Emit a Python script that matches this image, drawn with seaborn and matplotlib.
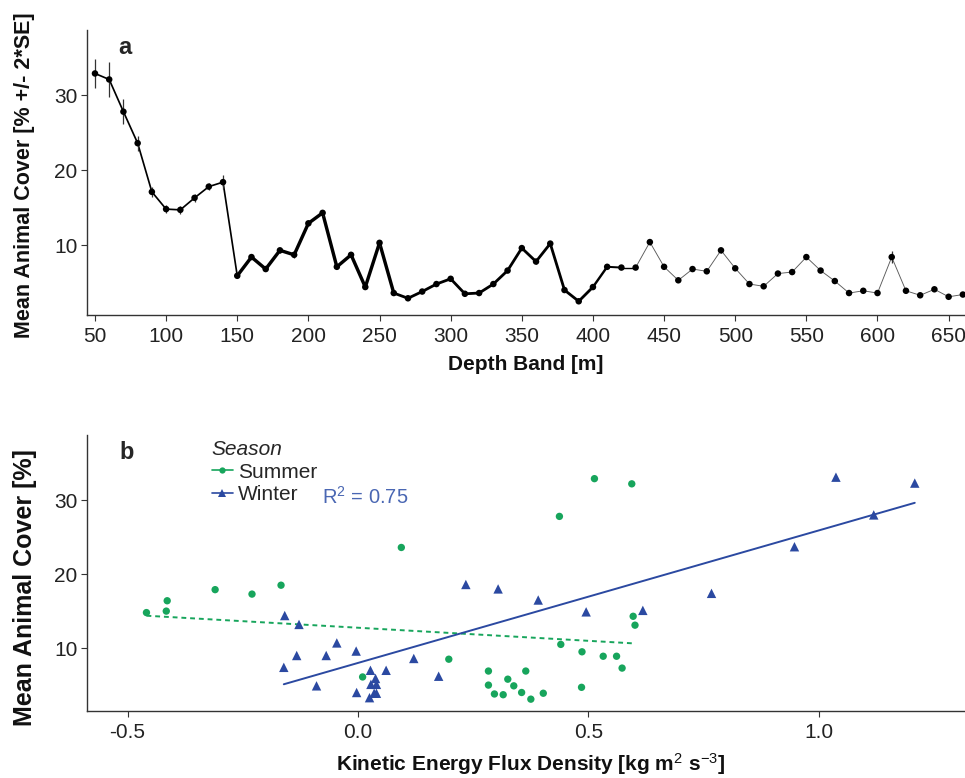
import numpy as np
import pandas as pd
import matplotlib
matplotlib.use("Agg")
import matplotlib.pyplot as plt
import seaborn as sns
from matplotlib.collections import LineCollection
from matplotlib.lines import Line2D

# ---------------- data: panel a ----------------
depth = list(range(50, 670, 10))
cover = [32.9, 32.1, 27.8, 23.6, 17.1, 14.8, 14.7, 16.3, 17.8, 18.4,
         5.9, 8.4, 6.8, 9.3, 8.7, 12.9, 14.3, 7.1, 8.7, 4.4,
         10.3, 3.6, 2.9, 3.8, 4.8, 5.5, 3.5, 3.6, 4.8, 6.6,
         9.6, 7.8, 10.2, 4.0, 2.5, 4.4, 7.1, 7.0, 7.0, 10.4,
         7.1, 5.3, 6.8, 6.5, 9.3, 6.9, 4.8, 4.5, 6.2, 6.4,
         8.4, 6.6, 5.2, 3.6, 3.9, 3.6, 8.4, 3.9, 3.3, 4.1, 3.1, 3.4]
two_se = [1.9, 2.3, 1.7, 1.0, 0.7, 0.5, 0.5, 0.5, 0.5, 0.9,
          0.3, 0.3, 0.3, 0.3, 0.4, 0.4, 0.4, 0.3, 0.3, 0.3,
          0.4, 0.3, 0.2, 0.2, 0.2, 0.2, 0.2, 0.2, 0.2, 0.2,
          0.3, 0.3, 0.3, 0.2, 0.2, 0.2, 0.2, 0.2, 0.2, 0.4,
          0.2, 0.2, 0.2, 0.2, 0.3, 0.2, 0.2, 0.2, 0.2, 0.2,
          0.2, 0.2, 0.2, 0.2, 0.2, 0.2, 0.8, 0.2, 0.2, 0.2, 0.2, 0.2]
n_images = [17] * 10 + [34] * 11 + [28] * 14 + [24, 20, 14] + [9] * 24

# ---------------- data: panel b ----------------
summer_kef = [-0.459, -0.414, -0.416, -0.310, -0.230, -0.167, 0.094, 0.010,
              0.513, 0.594, 0.437, 0.197, 0.283, 0.283, 0.296, 0.315, 0.325,
              0.338, 0.355, 0.364, 0.375, 0.402, 0.440, 0.486, 0.485, 0.532,
              0.561, 0.573, 0.597, 0.601]
summer_cover = [14.8, 16.4, 15.0, 17.9, 17.3, 18.5, 23.6, 6.1,
                32.9, 32.2, 27.8, 8.5, 6.9, 5.0, 3.8, 3.7, 5.8,
                4.9, 4.0, 6.9, 3.1, 3.9, 10.5, 9.5, 4.7, 8.9,
                8.9, 7.3, 14.3, 13.1]
winter_kef = [-0.159, -0.128, -0.046, -0.133, -0.069, -0.004, -0.161, -0.090,
              0.027, 0.061, 0.121, 0.038, 0.028, 0.040, -0.003, 0.035, 0.040,
              0.025, 0.175, 0.234, 0.304, 0.391, 0.495, 0.618, 1.037, 1.208,
              1.119, 0.947, 0.767]
winter_cover = [14.4, 13.2, 10.7, 9.0, 9.0, 9.6, 7.4, 4.9,
                7.0, 7.0, 8.6, 5.9, 5.1, 5.1, 4.0, 3.9, 3.9,
                3.3, 6.2, 18.6, 18.0, 16.5, 14.9, 15.1, 33.1, 32.3,
                28.0, 23.7, 17.4]
seasons = ["Summer", "Winter"]
r2_winter = "0.75"

depth_ticks = list(range(50, 700, 50))
kef_ticks = [-0.5, 0.0, 0.5, 1.0]
cover_ticks = [10, 20, 30]

# ---------------- style ----------------
sns.set_theme(style="ticks")
plt.rcParams["font.family"] = ["Liberation Sans", "DejaVu Sans"]
plt.rcParams["mathtext.fontset"] = "custom"
plt.rcParams["mathtext.rm"] = "Liberation Sans"
plt.rcParams["mathtext.it"] = "Liberation Sans:italic"
plt.rcParams["mathtext.bf"] = "Liberation Sans:bold"

GREEN = "#17a55c"
BLUE = "#2b49a1"
R2COL = "#4a67b3"

W, H = 965, 778
fig = plt.figure(figsize=(W / 100, H / 100), dpi=100)
ax1 = fig.add_axes([87 / W, (H - 315) / H, (W - 87) / W, 285 / H])
ax2 = fig.add_axes([87 / W, (H - 711) / H, (W - 87) / W, 276 / H])

dfa = pd.DataFrame({"depth": depth, "cover": cover, "se2": two_se, "n": n_images})

# variable-width connecting line
pts = np.column_stack([dfa["depth"], dfa["cover"]])
segs = np.stack([pts[:-1], pts[1:]], axis=1)
widths_px = dfa["n"].values[:-1] / 10.0
lws = widths_px * 0.72
cols = ["black" if w > 1.2 else "#5a5a5a" for w in widths_px]
lc = LineCollection(segs, linewidths=lws, colors=cols, capstyle="round",
                    joinstyle="round", zorder=2)
ax1.add_collection(lc)
ax1.errorbar(dfa["depth"], dfa["cover"], yerr=dfa["se2"], fmt="none",
             ecolor="#333333", elinewidth=0.9, capsize=0, zorder=2.5)
sns.scatterplot(data=dfa, x="depth", y="cover", color="black", s=22,
                edgecolor="none", ax=ax1, zorder=3, legend=False)

ax1.set_xlim(44.4, 661.5)
ax1.set_ylim(0.67, 38.7)
ax1.set_xticks(depth_ticks)
ax1.set_yticks(cover_ticks)
ax1.set_xlabel("Depth Band [m]", fontsize=15, fontweight="bold", color="#111")
ax1.set_ylabel("Mean Animal Cover [% +/- 2*SE]", fontsize=15.5,
               fontweight="bold", color="#111")
ax1.xaxis.set_label_coords(0.5, -0.14)
ax1.yaxis.set_label_coords(-0.059, 0.491)
ax1.text(0.0427, 0.94, "a", transform=ax1.transAxes, fontsize=17,
         fontweight="bold", ha="center", va="center")

# ---------------- panel b ----------------
dfb = pd.DataFrame({
    "kef": summer_kef + winter_kef,
    "cover": summer_cover + winter_cover,
    "season": [seasons[0]] * len(summer_kef) + [seasons[1]] * len(winter_kef),
})
palette = {"Summer": GREEN, "Winter": BLUE}
markers = {"Summer": "o", "Winter": "^"}
sns.scatterplot(data=dfb[dfb.season == "Summer"], x="kef", y="cover",
                color=GREEN, marker="o", s=28, edgecolor="none", ax=ax2,
                zorder=3, legend=False)
sns.scatterplot(data=dfb[dfb.season == "Winter"], x="kef", y="cover",
                color=BLUE, marker="^", s=46, edgecolor="none", ax=ax2,
                zorder=3, legend=False)
sns.regplot(data=dfb[dfb.season == "Summer"], x="kef", y="cover", scatter=False,
            ci=None, truncate=True, ax=ax2,
            line_kws={"color": GREEN, "lw": 1.4, "ls": (0, (2.5, 2.0)), "zorder": 2})
sns.regplot(data=dfb[dfb.season == "Winter"], x="kef", y="cover", scatter=False,
            ci=None, truncate=True, ax=ax2,
            line_kws={"color": BLUE, "lw": 1.4, "zorder": 2})

ax2.set_xlim(-0.588, 1.317)
ax2.set_ylim(1.5, 38.8)
ax2.set_xticks(kef_ticks)
ax2.set_xticklabels([f"{v:.1f}" for v in kef_ticks])
ax2.set_yticks(cover_ticks)
ax2.set_xlabel(r"Kinetic Energy Flux Density [kg m$^{2}$ s$^{-3}$]",
               fontsize=15, fontweight="bold", color="#111")
ax2.set_ylabel("Mean Animal Cover [%]", fontsize=18, fontweight="bold", color="#111")
ax2.xaxis.set_label_coords(0.505, -0.145)
ax2.yaxis.set_label_coords(-0.0575, 0.446)
ax2.text(0.0456, 0.938, "b", transform=ax2.transAxes, fontsize=17,
         fontweight="bold", ha="center", va="center")
ax2.text(0.268, 0.775, r"R$^2$ = " + r2_winter, transform=ax2.transAxes,
         fontsize=14.5, color=R2COL, ha="left", va="center")

handles = [Line2D([0], [0], color=palette[s], marker=markers[s], lw=1.2,
                  markersize=4.5 if s == "Summer" else 5.5, markeredgewidth=0)
           for s in seasons]
leg = ax2.legend(handles, seasons, title="Season", loc="upper left",
                 bbox_to_anchor=(0.142, 0.982), frameon=False, fontsize=15,
                 title_fontsize=15, borderpad=0, borderaxespad=0,
                 handlelength=1.0, handletextpad=0.25, labelspacing=0.17)
leg.get_title().set_fontstyle("italic")
leg._legend_box.align = "left"

for ax in (ax1, ax2):
    sns.despine(ax=ax)
    for sp in ("left", "bottom"):
        ax.spines[sp].set_color("#333333")
        ax.spines[sp].set_linewidth(1.0)
    ax.tick_params(axis="both", direction="out", length=4.3, width=0.8,
                   color="#333333", labelsize=15, labelcolor="#222222", pad=2.5)
ax1.tick_params(axis="x", pad=4)
ax2.tick_params(axis="x", pad=4.5)

fig.savefig("out.png", dpi=100)
